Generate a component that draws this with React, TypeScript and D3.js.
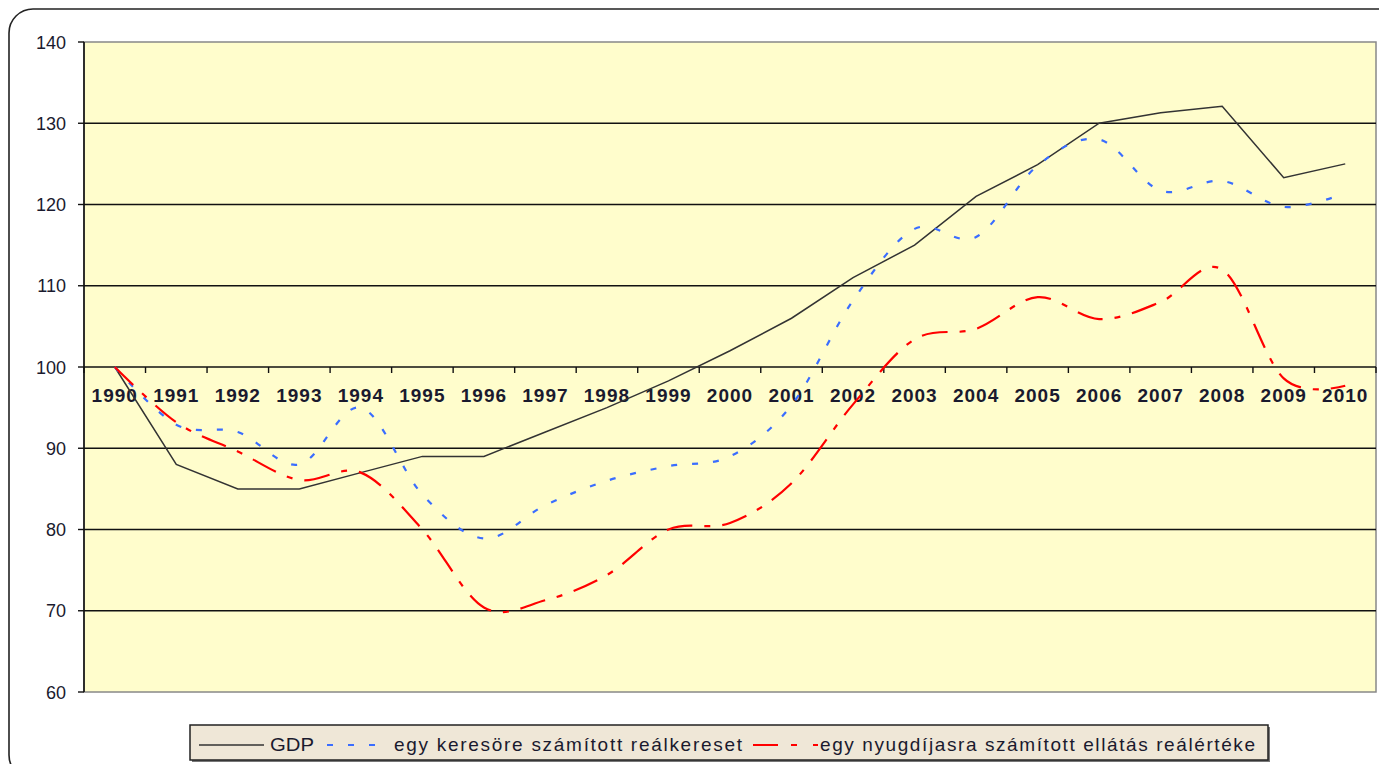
import React from "react";
import * as d3 from "d3";

const years = [
  "1990", "1991", "1992", "1993", "1994", "1995", "1996", "1997", "1998", "1999", "2000",
  "2001", "2002", "2003", "2004", "2005", "2006", "2007", "2008", "2009", "2010",
];
const gdp = [100, 88, 85, 85, 87, 89, 89, 92, 95, 98.3, 102, 106, 111, 115, 121, 124.9, 130, 131.3, 132.1, 123.3, 125];
const wages = [100, 92.9, 92, 88, 95, 84.3, 78.9, 83, 86, 87.8, 89, 95.3, 108.2, 117, 116, 124.8, 128, 121.7, 122.9, 119.7, 121.4];
const pensions = [100, 93.2, 89.6, 86.1, 87, 80, 70.4, 71.3, 74.4, 80, 80.8, 85.7, 95.4, 103.4, 104.7, 108.6, 105.9, 108, 112, 98.6, 97.7];
const yTicks = [60, 70, 80, 90, 100, 110, 120, 130, 140];

const legendLabels = ["GDP", "egy keresöre számított reálkereset", "egy nyugdíjasra számított ellátás reálértéke"];

const W = 1379;
const H = 764;
const margin = { top: 42, right: 3, bottom: 72, left: 84 };
const font = "'Liberation Sans', Arial, sans-serif";

const App: React.FC = () => {
  const x = d3.scaleBand().domain(years).range([margin.left, W - margin.right]).padding(0);
  const y = d3.scaleLinear().domain([60, 140]).range([H - margin.bottom, margin.top]);
  const cx = (i: number) => (x(years[i]) ?? 0) + x.bandwidth() / 2;

  const straight = d3.line<number>().x((_, i) => cx(i)).y((d) => y(d));
  const smooth = d3
    .line<number>()
    .x((_, i) => cx(i))
    .y((d) => y(d))
    .curve(d3.curveCatmullRom.alpha(0));

  const x0 = margin.left;
  const x1 = W - margin.right;
  const axisY = y(100);

  return (
    <svg width={W} height={H} style={{ position: "absolute", left: 0, top: 0, background: "#fff" }}>
      {/* outer frame */}
      <rect x={9} y={9} width={1400} height={770} rx={24} fill="#fff" stroke="#222" strokeWidth={1.6} />

      {/* plot area */}
      <rect x={x0} y={y(140)} width={x1 - x0} height={y(60) - y(140)} fill="#FFFDCC" stroke="#888" strokeWidth={1.5} />

      {/* gridlines */}
      {yTicks
        .filter((t) => t > 60 && t < 140)
        .map((t) => (
          <line key={t} x1={x0} x2={x1} y1={y(t)} y2={y(t)} stroke="#111" strokeWidth={1.6} />
        ))}

      {/* y axis */}
      <line x1={x0} x2={x0} y1={y(140)} y2={y(60)} stroke="#111" strokeWidth={1.6} />
      {yTicks.map((t) => (
        <g key={t}>
          <line x1={x0 - 6} x2={x0} y1={y(t)} y2={y(t)} stroke="#111" strokeWidth={1.4} />
          <text x={66} y={y(t) + 6.5} textAnchor="end" fontFamily={font} fontSize={18} fill="#1a1a2e">
            {t}
          </text>
        </g>
      ))}

      {/* x axis at 100 */}
      {years.map((yr) => (
        <line key={yr} x1={x(yr)} x2={x(yr)} y1={axisY} y2={axisY + 6} stroke="#111" strokeWidth={1.4} />
      ))}
      <line x1={x1} x2={x1} y1={axisY} y2={axisY + 6} stroke="#111" strokeWidth={1.4} />
      {years.map((yr, i) => (
        <text
          key={yr}
          x={cx(i)}
          y={axisY + 35}
          textAnchor="middle"
          fontFamily={font}
          fontWeight="bold"
          fontSize={19}
          letterSpacing={1}
          fill="#1a1a2e"
        >
          {yr}
        </text>
      ))}

      {/* series */}
      <path d={straight(gdp) ?? ""} fill="none" stroke="#333" strokeWidth={1.5} />
      <path d={smooth(wages) ?? ""} fill="none" stroke="#3a6dff" strokeWidth={2.2} strokeDasharray="6 15" />
      <path d={smooth(pensions) ?? ""} fill="none" stroke="#ff0000" strokeWidth={2.2} strokeDasharray="26 12 6 12" />

      {/* legend */}
      <rect x={192} y={727} width={1078} height={35} fill="#777" />
      <rect x={190} y={725} width={1078} height={35} fill="#EFE7D7" stroke="#222" strokeWidth={1.5} />
      <line x1={199} x2={264} y1={745} y2={745} stroke="#333" strokeWidth={1.5} />
      <text x={270} y={751} fontFamily={font} fontSize={19} fill="#1a1a2e" textLength={44} lengthAdjust="spacingAndGlyphs">
        {legendLabels[0]}
      </text>
      <line x1={327} x2={387} y1={745} y2={745} stroke="#3a6dff" strokeWidth={2.2} strokeDasharray="6 15" />
      <text x={394} y={751} fontFamily={font} fontSize={19} fill="#1a1a2e" textLength={348} lengthAdjust="spacing">
        {legendLabels[1]}
      </text>
      <line x1={753} x2={818} y1={745} y2={745} stroke="#ff0000" strokeWidth={2.2} strokeDasharray="25 13 6 16" />
      <text x={820} y={751} fontFamily={font} fontSize={19} fill="#1a1a2e" textLength={435} lengthAdjust="spacing">
        {legendLabels[2]}
      </text>
    </svg>
  );
};

export default App;
